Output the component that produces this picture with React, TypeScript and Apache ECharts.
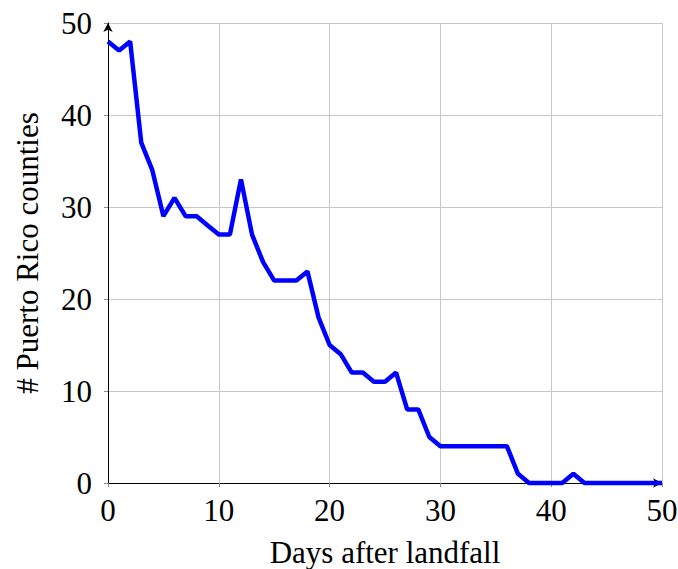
import React, { useEffect, useRef } from "react";
import * as echarts from "echarts";

const days: number[] = Array.from({ length: 51 }, (_, i) => i);
const counties: number[] = [
  48, 47, 48, 37, 34, 29, 31, 29, 29, 28,
  27, 27, 33, 27, 24, 22, 22, 22, 23, 18,
  15, 14, 12, 12, 11, 11, 12, 8, 8, 5,
  4, 4, 4, 4, 4, 4, 4, 1, 0, 0,
  0, 0, 1, 0, 0, 0, 0, 0, 0, 0,
  0,
];
const xTitle = "Days after landfall";
const yTitle = "# Puerto Rico counties";

const FONT = "Liberation Serif";

export default function App() {
  const ref = useRef<HTMLDivElement>(null);
  useEffect(() => {
    if (!ref.current) return;
    const chart = echarts.init(ref.current, null, { renderer: "svg" });
    chart.setOption({
      animation: false,
      grid: { left: 108, right: 16, top: 23, bottom: 86, containLabel: false, outerBoundsMode: "none" },
      xAxis: {
        type: "value",
        min: 0,
        max: 50,
        interval: 10,
        name: xTitle,
        nameLocation: "middle",
        nameGap: 54,
        nameTextStyle: { fontFamily: FONT, fontSize: 31, color: "#000" },
        axisLine: { show: true, symbol: ["none", "arrow"], symbolSize: [7, 9], lineStyle: { color: "#000", width: 1 } },
        axisTick: { show: true, length: 4, lineStyle: { color: "#888" } },
        axisLabel: { fontFamily: FONT, fontSize: 31, color: "#000", margin: 12 },
        splitLine: { show: true, lineStyle: { color: "#c8c8c8", width: 1 } },
      },
      yAxis: {
        type: "value",
        min: 0,
        max: 50,
        interval: 10,
        name: yTitle,
        nameLocation: "middle",
        nameGap: 65,
        nameTextStyle: { fontFamily: FONT, fontSize: 31, color: "#000" },
        axisLine: { show: true, symbol: ["none", "arrow"], symbolSize: [7, 9], lineStyle: { color: "#000", width: 1 } },
        axisTick: { show: true, length: 4, lineStyle: { color: "#888" } },
        axisLabel: { fontFamily: FONT, fontSize: 31, color: "#000", margin: 16 },
        splitLine: { show: true, lineStyle: { color: "#c8c8c8", width: 1 } },
      },
      series: [
        {
          type: "line",
          data: days.map((d, i) => [d, counties[i]]),
          showSymbol: false,
          symbol: "none",
          lineStyle: { color: "#0000ff", width: 4.5 },
          clip: false,
        },
      ],
    });
    return () => chart.dispose();
  }, []);
  return <div ref={ref} style={{ width: 678, height: 569, position: "absolute", left: 0, top: 0 }} />;
}
